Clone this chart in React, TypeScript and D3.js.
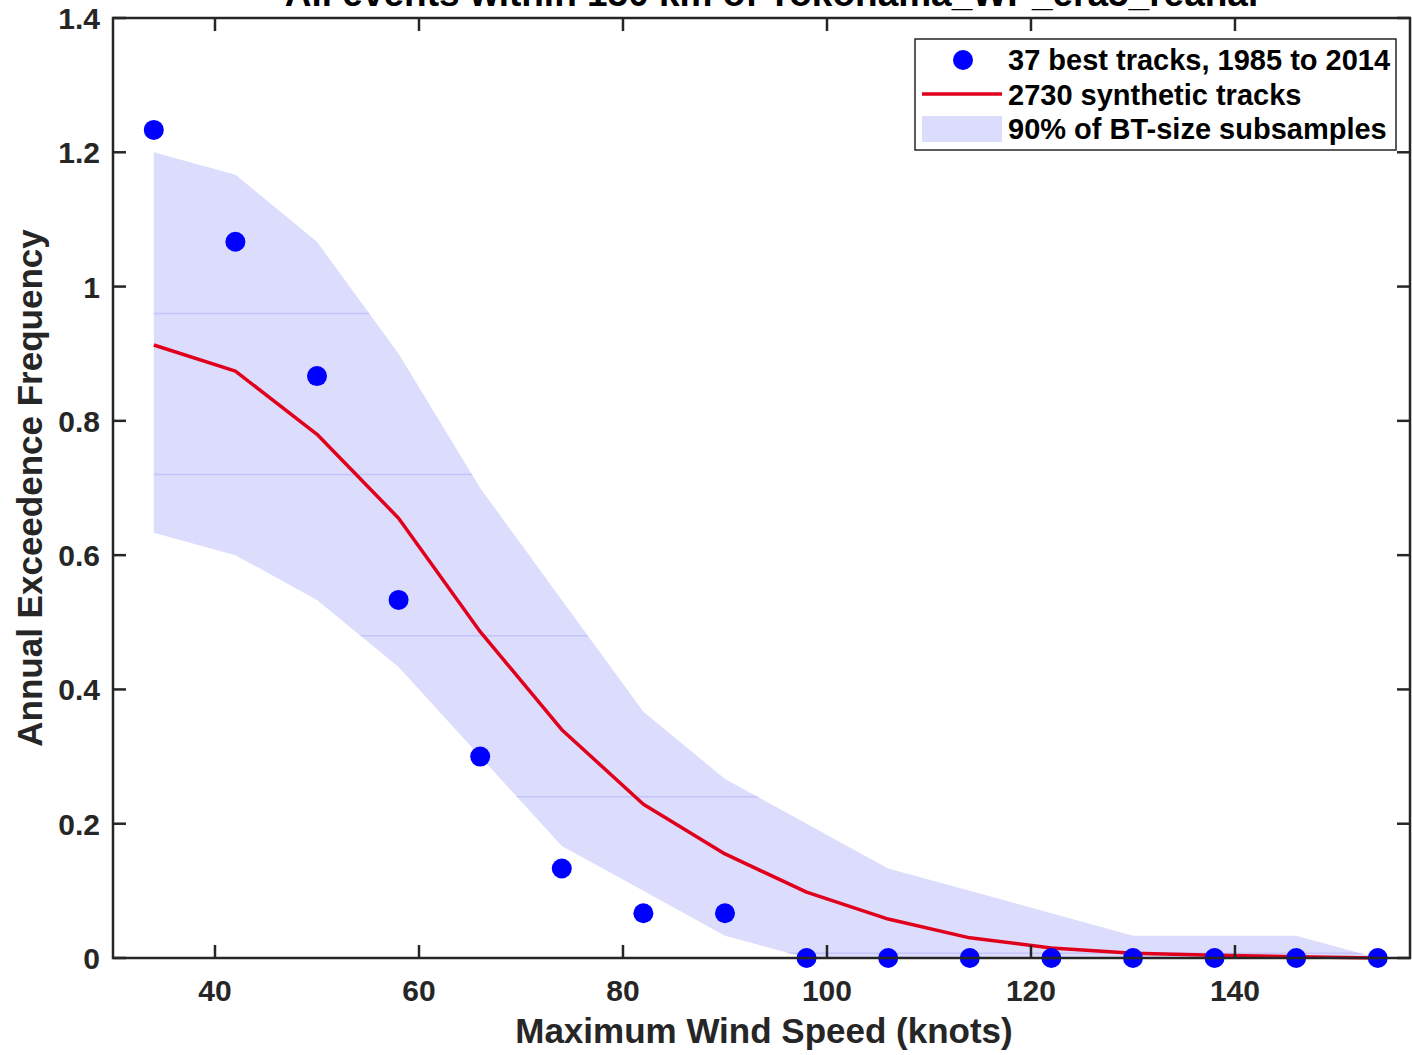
import React from "react";
import * as d3 from "d3";

const windSpeeds = [34, 42, 50, 58, 66, 74, 82, 90, 98, 106, 114, 122, 130, 138, 146, 154];
const bestTrackFreq = [1.2333, 1.0667, 0.8667, 0.5333, 0.3, 0.1333, 0.0667, 0.0667, 0, 0, 0, 0, 0, 0, 0, 0];
const syntheticFreq = [0.913, 0.874, 0.78, 0.655, 0.486, 0.34, 0.229, 0.155, 0.098, 0.058, 0.03, 0.015, 0.007, 0.004, 0.002, 0.0];
const bandUpper = [1.2, 1.1667, 1.0667, 0.9, 0.7, 0.5333, 0.3667, 0.2667, 0.2, 0.1333, 0.1, 0.0667, 0.0333, 0.0333, 0.0333, 0];
const bandLower = [0.6333, 0.6, 0.5333, 0.4333, 0.3, 0.1667, 0.1, 0.0333, 0, 0, 0, 0, 0, 0, 0, 0];
const xTicks = [40, 60, 80, 100, 120, 140];
const yTicks = [0, 0.2, 0.4, 0.6, 0.8, 1, 1.2, 1.4];
const artifactLevels = [0.96, 0.72, 0.48, 0.24, 0.007];

const titleText = "All events within 150 km of Yokohama_WP_era5_reanal";
const xLabel = "Maximum Wind Speed (knots)";
const yLabel = "Annual Exceedence Frequency";
const legendLabels = ["37 best tracks, 1985 to 2014", "2730 synthetic tracks", "90% of BT-size subsamples"];

const W = 1412;
const H = 1055;
const L = 113, R = 1410, T = 18, B = 958;
const axisColor = "#262626";
const font = "'Liberation Sans', Arial, Helvetica, sans-serif";

export default function App() {
  const x = d3.scaleLinear().domain([30, 157.16]).range([L, R]);
  const y = d3.scaleLinear().domain([0, 1.4]).range([B, T]);

  const bandData = windSpeeds.map((w, i) => ({ w, lo: bandLower[i], hi: bandUpper[i] }));
  const areaGen = d3
    .area<{ w: number; lo: number; hi: number }>()
    .x((d) => x(d.w))
    .y0((d) => y(d.lo))
    .y1((d) => y(d.hi));
  const lineGen = d3
    .line<number>()
    .x((_, i) => x(windSpeeds[i]))
    .y((d) => y(d));

  const tickLen = 13;

  return (
    <svg
      width={W}
      height={H}
      style={{ position: "absolute", left: 0, top: 0, display: "block", background: "#fff" }}
      fontFamily={font}
    >
      <defs>
        <clipPath id="bandClip">
          <path d={areaGen(bandData) || ""} />
        </clipPath>
      </defs>
      {/* band */}
      <path d={areaGen(bandData) || ""} fill="#dcdcfc" stroke="none" />
      <g clipPath="url(#bandClip)">
        {artifactLevels.map((lv, i) => (
          <line key={i} x1={L} x2={R} y1={y(lv)} y2={y(lv)} stroke="#c4c4fa" strokeWidth={1.5} />
        ))}
      </g>
      {/* synthetic line */}
      <path d={lineGen(syntheticFreq) || ""} fill="none" stroke="#e0001b" strokeWidth={3.5} strokeLinejoin="round" />
      {/* best track points */}
      {bestTrackFreq.map((v, i) => (
        <circle key={i} cx={x(windSpeeds[i])} cy={y(v)} r={10} fill="#0000ff" />
      ))}

      {/* axes box */}
      <rect x={L} y={T} width={R - L} height={B - T} fill="none" stroke={axisColor} strokeWidth={2.5} />
      {xTicks.map((t) => (
        <g key={"xt" + t}>
          <line x1={x(t)} x2={x(t)} y1={B} y2={B - tickLen} stroke={axisColor} strokeWidth={2.5} />
          <line x1={x(t)} x2={x(t)} y1={T} y2={T + tickLen} stroke={axisColor} strokeWidth={2.5} />
          <text x={x(t)} y={1001} textAnchor="middle" fontSize={30} fontWeight="bold" fill={axisColor}>
            {t}
          </text>
        </g>
      ))}
      {yTicks.map((t) => (
        <g key={"yt" + t}>
          <line x1={L} x2={L + tickLen} y1={y(t)} y2={y(t)} stroke={axisColor} strokeWidth={2.5} />
          <line x1={R} x2={R - tickLen} y1={y(t)} y2={y(t)} stroke={axisColor} strokeWidth={2.5} />
          <text x={100} y={y(t) + 11} textAnchor="end" fontSize={30} fontWeight="bold" fill={axisColor}>
            {d3.format("~g")(t)}
          </text>
        </g>
      ))}

      {/* title (clipped at top edge, as in the reference) */}
      <text x={(L + R) / 2 + 10} y={6} textAnchor="middle" fontSize={37} fontWeight="bold" fill="#000">
        {titleText}
      </text>
      {/* axis labels */}
      <text x={764} y={1043} textAnchor="middle" fontSize={35} fontWeight="bold" fill={axisColor}>
        {xLabel}
      </text>
      <text
        transform={`translate(42, 488) rotate(-90)`}
        textAnchor="middle"
        fontSize={35}
        fontWeight="bold"
        fill={axisColor}
      >
        {yLabel}
      </text>

      {/* legend */}
      <g>
        <rect x={915} y={39} width={481} height={111} fill="#fff" stroke={axisColor} strokeWidth={1.5} />
        <circle cx={963} cy={60} r={10} fill="#0000ff" />
        <line x1={922} x2={1002} y1={94} y2={94} stroke="#e0001b" strokeWidth={3.5} />
        <rect x={922} y={116} width={80} height={26} fill="#dcdcfc" />
        {legendLabels.map((lab, i) => (
          <text key={i} x={1008} y={70 + i * 34.5} fontSize={29} fontWeight="bold" fill="#000">
            {lab}
          </text>
        ))}
      </g>
    </svg>
  );
}
